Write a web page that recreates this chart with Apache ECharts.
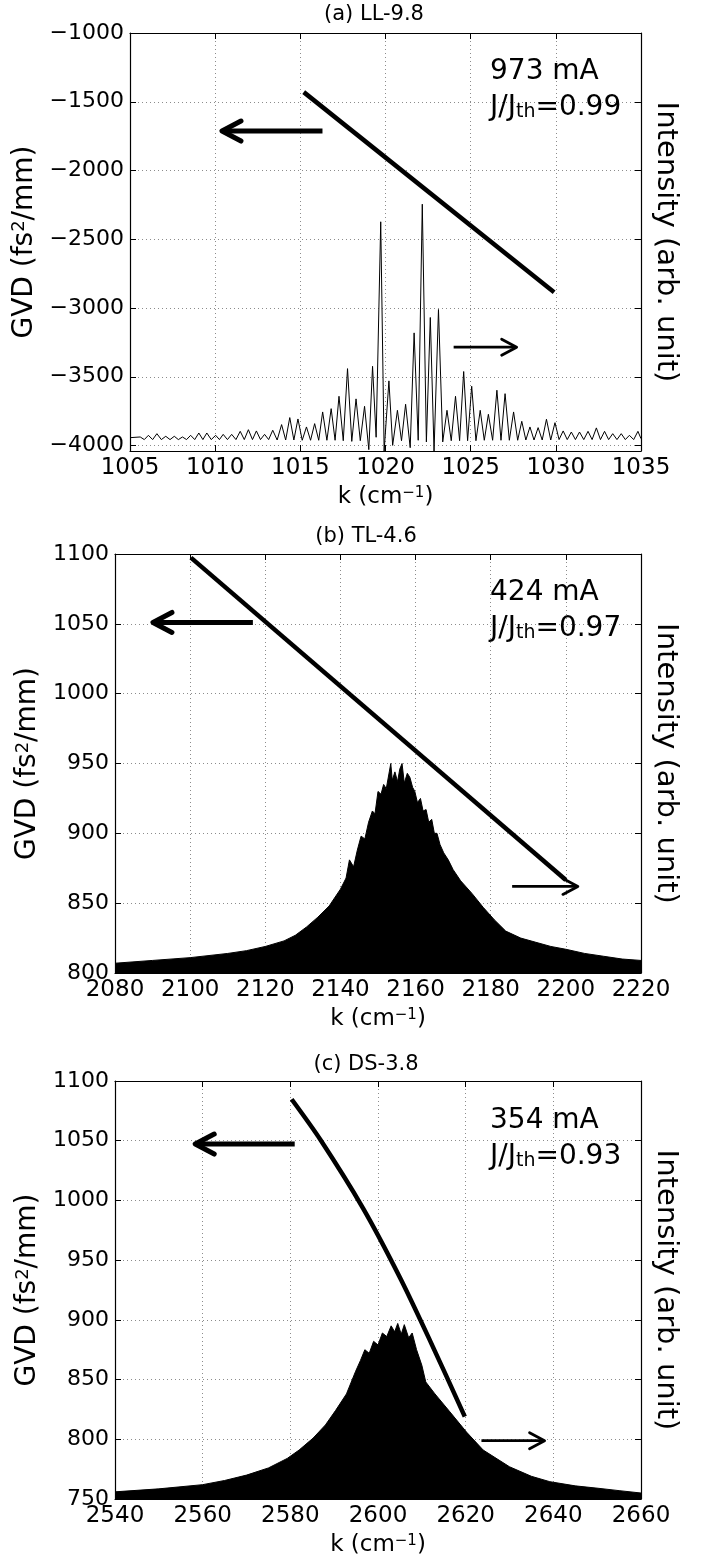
<!DOCTYPE html>
<html>
<head>
<meta charset="utf-8">
<script src="https://cdn.jsdelivr.net/npm/echarts@6/dist/echarts.min.js"></script>
<style>
  html, body { margin: 0; padding: 0; background: #fff; }
  #main { width: 706px; height: 1566px; }
</style>
</head>
<body>
<div id="main"></div>
<script>
// (a) LL-9.8
const kRangeA = [1005, 1035]
const gvdRangeA = [-4040, -1000]
const gvdAK = [1015.2, 1029.9]
const gvdAV = [-1430, -2885]
// spectrum (a): peaks and troughs
const specAK = [1005.0, 1005.60, 1005.84, 1006.08, 1006.33, 1006.58, 1006.84, 1007.10, 1007.35, 1007.60,
  1007.84, 1008.08, 1008.32, 1008.56, 1008.80, 1009.04, 1009.28, 1009.51, 1009.77, 1010.03,
  1010.25, 1010.47, 1010.72, 1010.97, 1011.22, 1011.47, 1011.71, 1011.95, 1012.19, 1012.42,
  1012.66, 1012.90, 1013.14, 1013.38, 1013.64, 1013.90, 1014.14, 1014.38, 1014.62, 1014.86,
  1015.11, 1015.36, 1015.60, 1015.84, 1016.08, 1016.31, 1016.56, 1016.81, 1017.04, 1017.27,
  1017.52, 1017.77, 1018.02, 1018.27, 1018.52, 1018.77, 1019.02, 1019.24, 1019.45, 1019.72,
  1019.92, 1020.20, 1020.42, 1020.70, 1020.94, 1021.18, 1021.45, 1021.68, 1021.92, 1022.16,
  1022.40, 1022.63, 1022.85, 1023.11, 1023.36, 1023.61, 1023.86, 1024.11, 1024.35, 1024.59,
  1024.82, 1025.06, 1025.31, 1025.56, 1025.80, 1026.04, 1026.29, 1026.54, 1026.78, 1027.02,
  1027.27, 1027.52, 1027.76, 1028.00, 1028.24, 1028.48, 1028.72, 1028.96, 1029.20, 1029.45,
  1029.70, 1029.95, 1030.19, 1030.43, 1030.67, 1030.91, 1031.15, 1031.39, 1031.64, 1031.89,
  1032.13, 1032.38, 1032.62, 1032.86, 1033.10, 1033.34, 1033.59, 1033.84, 1034.08, 1034.32,
  1034.57, 1034.82, 1035.0]
const specAV = [-3943, -3938, -3957, -3926, -3957, -3914, -3957, -3933, -3957, -3933,
  -3957, -3938, -3957, -3926, -3957, -3909, -3957, -3909, -3957, -3926,
  -3957, -3919, -3957, -3919, -3957, -3897, -3957, -3885, -3957, -3894,
  -3957, -3919, -3957, -3889, -3960, -3848, -3960, -3797, -3960, -3807,
  -3962, -3865, -3962, -3841, -3962, -3756, -3962, -3732, -3962, -3642,
  -3965, -3441, -3970, -3661, -3965, -3715, -4030, -3424, -3940, -2373,
  -4040, -3530, -3999, -3744, -3965, -3700, -4016, -3181, -3962, -2245,
  -3974, -3069, -4040, -3011, -3974, -3744, -3965, -3642, -3965, -3462,
  -3965, -3569, -3965, -3744, -3962, -3773, -3962, -3598, -3962, -3623,
  -3962, -3756, -3962, -3824, -3960, -3865, -3960, -3870, -3960, -3809,
  -3960, -3834, -3957, -3894, -3957, -3902, -3957, -3902, -3957, -3897,
  -3957, -3872, -3957, -3897, -3957, -3914, -3957, -3914, -3957, -3926,
  -3957, -3897, -3950]
const arrowsA = [[1016.3, -1713, 1010.4, -1713], [1024.0, -3285, 1027.7, -3285]]

// (b) TL-4.6
const kRangeB = [2080, 2220]
const gvdRangeB = [800, 1100]
const gvdBK = [2100.2, 2200]
const gvdBV = [1097.4, 866.6]
const specBK = [2080, 2090, 2100, 2110, 2115, 2120, 2125, 2128, 2131, 2134,
  2137, 2140, 2141.5, 2142.4, 2143.5, 2144.5, 2145.5, 2146.5, 2147.5, 2148.5,
  2149.2, 2150, 2150.8, 2151.5, 2152.2, 2153, 2153.4, 2153.8, 2154.5, 2155.2,
  2155.8, 2156.4, 2157, 2157.8, 2158.5, 2159.2, 2159.8, 2160.5, 2161.3, 2162,
  2162.8, 2163.5, 2164.3, 2165, 2165.7, 2166.5, 2167.5, 2168.7, 2170, 2172,
  2175, 2178, 2181, 2184, 2188, 2192, 2196, 2200, 2205, 2210,
  2215, 2220]
const specBV = [807, 809, 811, 814, 816, 819, 823, 827, 833, 840,
  848, 860, 868, 881, 876, 888, 898, 896, 908, 916,
  914, 930, 928, 935, 932, 944, 950, 938, 944, 937,
  946, 950, 936, 943, 940, 933, 930, 922, 925, 916,
  917, 908, 910, 900, 900, 892, 886, 881, 874, 866,
  857, 847, 838, 830, 825, 822, 819, 817, 814, 812,
  810, 809]
const arrowsB = [[2116.7, 1051, 2090.1, 1051], [2185.7, 862, 2203.2, 862]]

// (c) DS-3.8
const kRangeC = [2540, 2660]
const gvdRangeC = [750, 1100]
const gvdCK = [2580.3, 2586.9, 2596.6, 2605, 2612, 2619.8]
const gvdCV = [1084.7, 1050.6, 993.4, 935.5, 881.6, 819]
const specCK = [2540, 2550, 2560, 2565, 2570, 2575, 2579.3, 2582, 2585.2, 2588,
  2590.3, 2592.8, 2594.9, 2596, 2597, 2598, 2599, 2600, 2601, 2602,
  2603, 2603.8, 2604.5, 2605.3, 2606, 2607, 2607.8, 2608.8, 2610, 2610.9,
  2613, 2616.4, 2620.2, 2624, 2630, 2635, 2639.2, 2645, 2650.2, 2655,
  2660]
const specCV = [756, 758.5, 762, 765.5, 770, 776, 784, 791, 801, 812,
  824, 838, 857, 866, 875, 872, 882, 879, 889, 886,
  895, 890, 897, 888, 896, 885, 889, 875, 862, 848,
  838, 823, 806, 791, 777, 769, 764.5, 761, 759, 757,
  755]
const arrowsC = [[2581, 1047.2, 2558.3, 1047.2], [2623.6, 798.8, 2638, 798.8]]

const titles = ['(a) LL-9.8', '(b) TL-4.6', '(c) DS-3.8']
const currents = ['973 mA', '424 mA', '354 mA']
const ratios = ['0.99', '0.97', '0.93']

const FONT = 'DejaVu Sans'
const pair = (ks, vs) => ks.map((k, i) => [k, vs[i]])

const grids = [
  { left: 130, top: 33, width: 511, height: 418 },
  { left: 115, top: 554, width: 526, height: 419 },
  { left: 115, top: 1081, width: 526, height: 418 }
]

const dotted = { show: true, lineStyle: { color: '#8c8c8c', width: 1, type: [1, 3] } }
const blackLine = { show: true, onZero: false, lineStyle: { color: '#000', width: 1.2 } }
const tickIn = { show: true, inside: true, length: 6, lineStyle: { color: '#000', width: 1 } }
const xRich = {
  t: { fontSize: 23, fontFamily: FONT, color: '#000' },
  s: { fontSize: 15, fontFamily: FONT, color: '#000', verticalAlign: 'top' }
}
const yRich = {
  t: { fontSize: 28, fontFamily: FONT, color: '#000' },
  s: { fontSize: 18, fontFamily: FONT, color: '#000', verticalAlign: 'top' }
}
const minus = v => String(v).replace('-', '\u2212')
const plain = v => String(v)

let xAxis = [], yAxis = [], series = []

function panel(gi, kRange, kStep, gvdRange, gvd, spec, arrows, filled) {
  xAxis.push({
    gridIndex: gi, type: 'value', position: 'bottom', min: kRange[0], max: kRange[1], interval: kStep,
    name: '{t|k (cm}{s|\u22121}{t|)}', nameLocation: 'middle', nameGap: 35,
    nameTextStyle: { rich: xRich },
    axisLine: blackLine, axisTick: tickIn,
    axisLabel: { color: '#000', fontSize: 23, fontFamily: FONT, margin: 6, formatter: plain },
    splitLine: dotted
  })
  xAxis.push({
    gridIndex: gi, type: 'value', position: 'top', min: kRange[0], max: kRange[1], interval: kStep,
    axisLine: blackLine, axisTick: tickIn, axisLabel: { show: false }, splitLine: { show: false }
  })
  yAxis.push({
    gridIndex: gi, type: 'value', position: 'left', min: gvdRange[0], max: gvdRange[1], splitNumber: 6,
    name: '{t|GVD (fs}{s|2}{t|/mm)}', nameLocation: 'middle', nameRotate: 90,
    nameGap: gi === 0 ? 83 : 71,
    nameTextStyle: { rich: yRich },
    axisLine: blackLine, axisTick: tickIn,
    axisLabel: { color: '#000', fontSize: 22, fontFamily: FONT, margin: 6, formatter: minus, showMinLabel: gi !== 0 },
    splitLine: dotted
  })
  yAxis.push({
    gridIndex: gi, type: 'value', position: 'right', min: gvdRange[0], max: gvdRange[1], splitNumber: 6,
    name: 'Intensity (arb. unit)', nameLocation: 'middle', nameRotate: -90, nameGap: 10,
    nameTextStyle: { color: '#000', fontSize: 29, fontFamily: FONT },
    axisLine: blackLine, axisTick: tickIn, axisLabel: { show: false }, splitLine: { show: false }
  })
  const xi = gi * 2, yi = gi * 2
  series.push({
    type: 'line', xAxisIndex: xi, yAxisIndex: yi + 1, data: spec, symbol: 'none',
    lineStyle: { color: '#000', width: 1 },
    areaStyle: filled ? { color: '#000', opacity: 1, origin: 'start' } : undefined,
    z: 2, silent: true
  })
  series.push({
    type: 'line', xAxisIndex: xi, yAxisIndex: yi, data: gvd, symbol: 'none',
    smooth: gvd.length > 2 ? 0.3 : false,
    lineStyle: { color: '#000', width: 4.5 }, z: 4, silent: true
  })
  series.push({
    type: 'custom', xAxisIndex: xi, yAxisIndex: yi, data: arrows, z: 5, silent: true,
    encode: { x: [0, 2], y: [1, 3] },
    renderItem: (params, api) => {
      const p0 = api.coord([api.value(0), api.value(1)])
      const p1 = api.coord([api.value(2), api.value(3)])
      const thick = params.dataIndex === 0
      const w = thick ? 5 : 2.8
      const hl = thick ? 19 : 15
      const hw = thick ? 10 : 8
      const d = Math.sign(p1[0] - p0[0])
      return {
        type: 'group',
        children: [
          { type: 'line', shape: { x1: p0[0], y1: p0[1], x2: p1[0] - d * 2, y2: p1[1] },
            style: { stroke: '#000', lineWidth: w } },
          { type: 'polyline',
            shape: { points: [[p1[0] - d * hl, p1[1] - hw], [p1[0], p1[1]], [p1[0] - d * hl, p1[1] + hw]] },
            style: { stroke: '#000', fill: null, lineWidth: w, lineCap: 'round', lineJoin: 'round' } }
        ]
      }
    }
  })
}

panel(0, kRangeA, 5, gvdRangeA, pair(gvdAK, gvdAV), pair(specAK, specAV), arrowsA, false)
panel(1, kRangeB, 20, gvdRangeB, pair(gvdBK, gvdBV), pair(specBK, specBV), arrowsB, true)
panel(2, kRangeC, 20, gvdRangeC, pair(gvdCK, gvdCV), pair(specCK, specCV), arrowsC, true)

const titleY = [15, 537, 1065]
const titleX = [374, 366, 366]
const noteY = [72, 593, 1121]
let graphic = []
titles.forEach((t, i) => {
  graphic.push({ type: 'text', x: titleX[i], y: titleY[i], z: 10,
    style: { text: t, fontSize: 21, fontFamily: FONT, fill: '#000', align: 'center', verticalAlign: 'middle' } })
  graphic.push({ type: 'text', x: 490, y: noteY[i], z: 10,
    style: { text: currents[i], fontSize: 28, fontFamily: FONT, fill: '#000', align: 'left', verticalAlign: 'middle' } })
  graphic.push({ type: 'text', x: 490, y: noteY[i] + 36, z: 10,
    style: {
      text: '{a|J/J}{b|th}{a|=' + ratios[i] + '}', align: 'left', verticalAlign: 'middle',
      rich: {
        a: { fontSize: 28, fontFamily: FONT, fill: '#000', verticalAlign: 'bottom' },
        b: { fontSize: 19, fontFamily: FONT, fill: '#000', verticalAlign: 'bottom' }
      }
    } })
})

const chart = echarts.init(document.getElementById('main'))
chart.setOption({
  animation: false,
  backgroundColor: '#fff',
  grid: grids,
  xAxis: xAxis,
  yAxis: yAxis,
  series: series,
  graphic: graphic
})
</script>
</body>
</html>
